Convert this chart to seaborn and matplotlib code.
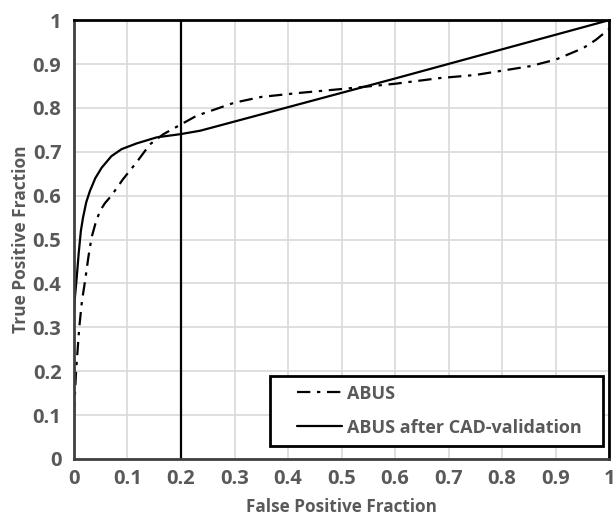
import numpy as np
import pandas as pd
import seaborn as sns
import matplotlib.pyplot as plt
from matplotlib.lines import Line2D
from matplotlib.legend_handler import HandlerLine2D

# ROC points
fpr_abus = [0, 0.002, 0.004, 0.007, 0.01, 0.015, 0.021, 0.027, 0.033, 0.041, 0.049, 0.058, 0.07,
            0.092, 0.117, 0.142, 0.167, 0.195, 0.229, 0.3, 0.35, 0.42, 0.5,
            0.6, 0.684, 0.75, 0.852, 0.9, 0.951, 0.975, 1.0]
tpr_abus = [0.1, 0.15, 0.2, 0.25, 0.3, 0.36, 0.407, 0.46, 0.505, 0.54, 0.566, 0.583, 0.6,
            0.638, 0.676, 0.717, 0.74, 0.759, 0.782, 0.812, 0.825, 0.834, 0.843,
            0.855, 0.868, 0.875, 0.895, 0.91, 0.936, 0.955, 0.98]

fpr_cad = [0, 0.002, 0.005, 0.009, 0.013, 0.017, 0.023, 0.03, 0.04, 0.052, 0.07,
           0.089, 0.117, 0.155, 0.198, 0.236, 0.6, 1.0]
tpr_cad = [0.33, 0.37, 0.41, 0.47, 0.52, 0.55, 0.585, 0.611, 0.64, 0.664, 0.69,
           0.706, 0.719, 0.733, 0.74, 0.748, 0.867, 1.0]

threshold_fpr = 0.2
ticks = [0, 0.1, 0.2, 0.3, 0.4, 0.5, 0.6, 0.7, 0.8, 0.9, 1]
tick_labels = ["0", "0.1", "0.2", "0.3", "0.4", "0.5", "0.6", "0.7", "0.8", "0.9", "1"]

df_abus = pd.DataFrame({"fpr": fpr_abus, "tpr": tpr_abus})
df_cad = pd.DataFrame({"fpr": fpr_cad, "tpr": tpr_cad})

sns.set_style("white")
plt.rcParams["font.family"] = ["Open Sans", "DejaVu Sans"]
grey = "#595959"

fig = plt.figure(figsize=(6.16, 5.16), dpi=100)
ax = fig.add_axes([0.12, 0.1105, 0.869, 0.8505])

ax.grid(True, color="#d9d9d9", linewidth=1.2)
ax.set_axisbelow(True)

sns.lineplot(data=df_abus, x="fpr", y="tpr", ax=ax, sort=False, estimator=None,
             color="black", linewidth=1.6, label="ABUS")
ax.lines[-1].set_dashes((6, 3, 1.5, 3))
sns.lineplot(data=df_cad, x="fpr", y="tpr", ax=ax, sort=False, estimator=None,
             color="black", linewidth=1.6, label="ABUS after CAD-validation")
ax.axvline(threshold_fpr, color="black", linewidth=1.6)

ax.set_xlim(0, 1)
ax.set_ylim(0, 1)
ax.set_xticks(ticks)
ax.set_xticklabels(tick_labels)
ax.set_yticks(ticks)
ax.set_yticklabels(tick_labels)
ax.tick_params(axis="x", length=0, pad=7, labelsize=14.5, labelcolor=grey)
ax.tick_params(axis="y", length=0, pad=9, labelsize=14.5, labelcolor=grey)
for lab in ax.get_xticklabels() + ax.get_yticklabels():
    lab.set_fontweight("bold")

ax.set_xlabel("False Positive Fraction", fontsize=12.3, fontweight="bold", color=grey, labelpad=7)
ax.set_ylabel("True Positive Fraction", fontsize=12.5, fontweight="bold", color=grey, labelpad=1.8)

for side in ["top", "right"]:
    ax.spines[side].set_color("black")
    ax.spines[side].set_linewidth(2)
for side in ["left", "bottom"]:
    ax.spines[side].set_color("#404040")
    ax.spines[side].set_linewidth(2)

leg = ax.legend(loc="lower left", bbox_to_anchor=(0.366, 0.03, 0.623, 0.165),
                mode="expand", frameon=True, fancybox=False, framealpha=1,
                borderaxespad=0, prop={"weight": "bold", "size": 13},
                handlelength=3.5, labelspacing=0.9, borderpad=0.5, handletextpad=0.3,
                handler_map={Line2D: HandlerLine2D(xpad=1.0)})
leg.get_frame().set_edgecolor("black")
leg.get_frame().set_linewidth(2)
for t in leg.get_texts():
    t.set_color(grey)

fig.savefig("out.png", dpi=100)
